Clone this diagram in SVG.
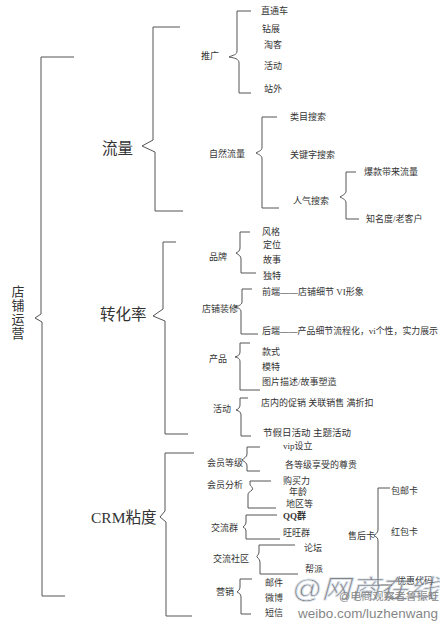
<svg xmlns="http://www.w3.org/2000/svg" width="440" height="622" viewBox="0 0 440 622">
<style>
.br{fill:none;stroke:#555;stroke-width:1}
text{font-family:"Liberation Serif","Noto Sans CJK SC",serif;dominant-baseline:central;fill:#333}
.s{font-size:9px}
.m{font-size:9.5px}
.L{font-size:15.5px;fill:#333}
.V{font-size:13px;fill:#333}
.wm{font-family:"Liberation Sans","Noto Sans CJK SC",sans-serif}
</style>
<rect width="440" height="622" fill="#fff"/>
<g id="connectors">
<path class="br" d="M74,57 H41 V314 L35,318 L42,322 V596 H65"/>
<path class="br" d="M180,27 H153 V140 L142,146 L155,152 V211 H183"/>
<path class="br" d="M176,242 H163 V309 L153,316 L165,321 V434 H188"/>
<path class="br" d="M194,453 H165 V511 L160,517 L166,522 V616 H192"/>
<path class="br" d="M251,11 H237 V51 C237,55 233,55 229,57 C235,58 239,59 239,63 V93 H251"/>
<path class="br" d="M277,117 H262 V147 C262,151 259,151 256,153 C260,155 262,156 262,159 V208 H279"/>
<path class="br" d="M356,172 H346 V191 C346,194 343,195 340,197 C344,199 346,200 346,203 V219 H359"/>
<path class="br" d="M250,232 H240 V248 C240,251 238,252 236,253 C239,255 241,256 241,259 V273 H256"/>
<path class="br" d="M252,289 H242 V302 C242,305 238,306 235,307 C239,308 241,309 241,312 V334 H258"/>
<path class="br" d="M250,343 H240 V352 C240,355 238,356 235,357 C239,358 240,359 240,362 V390 H260"/>
<path class="br" d="M248,398 H240 V405 C240,408 238,409 236,410 C239,411 241,412 241,415 V436 H251"/>
<path class="br" d="M260,447 H247 V454 C247,457 244,458 242,460 C245,462 247,463 247,466 V471 H260"/>
<path class="br" d="M271,481 H250 V484 C250,487 254,487 252,490 C250,492 248,492 248,495 V508 H276"/>
<path class="br" d="M277,515 H246 V522 C246,525 244,526 243,527 C245,528 246,529 246,532 V539 H280"/>
<path class="br" d="M295,545 H259 V552 C259,555 256,556 257,557 C259,559 260,560 260,563 V574 H298"/>
<path class="br" d="M252,579 H240 V587 C240,590 238,591 237,592 C239,593 241,594 241,597 V614 H251"/>
<path class="br" d="M390,488 H378 V530 C378,533 375,534 374,536 C377,537 378,538 378,541 V585 H392"/>
</g>
<g id="root"><text class="V" text-anchor="middle"><tspan x="18" y="291">店</tspan><tspan x="18" y="305">铺</tspan><tspan x="18" y="319">运</tspan><tspan x="18" y="333">营</tspan></text></g>
<g id="liuliang"><text class="L" x="102" y="148">流量</text></g>
<g id="zhuanhualv"><text class="L" x="100" y="314">转化率</text></g>
<g id="crm"><text class="L" x="91" y="517">CRM粘度</text></g>
<g id="tuiguang">
<text class="s" x="201" y="56">推广</text>
<text class="s" x="261" y="11">直通车</text>
<text class="s" x="262" y="29">钻展</text>
<text class="s" x="264" y="45">淘客</text>
<text class="s" x="264" y="66">活动</text>
<text class="s" x="264" y="89">站外</text>
</g>
<g id="ziran">
<text class="s" x="209" y="154">自然流量</text>
<text class="s" x="290" y="117">类目搜索</text>
<text class="s" x="290" y="155">关键字搜索</text>
</g>
<g id="renqi">
<text class="s" x="293" y="201">人气搜索</text>
<text class="s" x="364" y="172">爆款带来流量</text>
<text class="s" x="366" y="219">知名度/老客户</text>
</g>
<g id="pinpai">
<text class="s" x="209" y="257">品牌</text>
<text class="s" x="262" y="232">风格</text>
<text class="s" x="263" y="245">定位</text>
<text class="s" x="263" y="260">故事</text>
<text class="s" x="263" y="276">独特</text>
</g>
<g id="zhuangxiu">
<text class="s" x="202" y="309">店铺装修</text>
<text class="s" x="262" y="292">前端——店铺细节 VI形象</text>
<text class="s" x="262" y="331" textLength="176" lengthAdjust="spacingAndGlyphs">后端——产品细节流程化，vi个性，实力展示</text>
</g>
<g id="chanpin">
<text class="s" x="209" y="359">产品</text>
<text class="s" x="262" y="352">款式</text>
<text class="s" x="262" y="367">模特</text>
<text class="s" x="262" y="382">图片描述/故事塑造</text>
</g>
<g id="huodong">
<text class="s" x="213" y="409">活动</text>
<text class="s" x="261" y="403">店内的促销 关联销售 满折扣</text>
<text class="m" x="263" y="433">节假日活动 主题活动</text>
</g>
<g id="dengji">
<text class="s" x="207" y="463">会员等级</text>
<text class="s" x="283" y="446">vip设立</text>
<text class="s" x="285" y="465">各等级享受的尊贵</text>
</g>
<g id="fenxi">
<text class="s" x="207" y="485">会员分析</text>
<text class="s" x="283" y="481">购买力</text>
<text class="s" x="289" y="492">年龄</text>
<text class="s" x="286" y="504">地区等</text>
</g>
<g id="qun">
<text class="s" x="211" y="528">交流群</text>
<text class="s" x="283" y="516" font-weight="bold">QQ群</text>
<text class="s" x="283" y="533">旺旺群</text>
</g>
<g id="shequ">
<text class="s" x="213" y="559">交流社区</text>
<text class="s" x="304" y="548">论坛</text>
<text class="s" x="305" y="569">帮派</text>
</g>
<g id="yingxiao">
<text class="s" x="216" y="592">营销</text>
<text class="s" x="265" y="583">邮件</text>
<text class="s" x="265" y="598">微博</text>
<text class="s" x="265" y="613">短信</text>
</g>
<g id="shouhou">
<text class="s" x="348" y="536">售后卡</text>
<text class="s" x="391" y="491">包邮卡</text>
<text class="s" x="391" y="532">红包卡</text>
<text class="s" x="397" y="581">优惠代码</text>
</g>
<g id="watermark" opacity="0.6">
<text class="wm" x="292" y="589" font-size="26" font-style="italic" fill="none" stroke="#c8d4e2" stroke-width="0.8" textLength="146" lengthAdjust="spacingAndGlyphs">@网商在线</text>
<text class="wm" x="339" y="596" font-size="10.5" fill="#999" textLength="100" lengthAdjust="spacingAndGlyphs">@电商观察者鲁振旺</text>
<text class="wm" x="298" y="613" font-size="13.5" fill="#aaa" textLength="140" lengthAdjust="spacingAndGlyphs">weibo.com/luzhenwang</text>
</g>
</svg>
